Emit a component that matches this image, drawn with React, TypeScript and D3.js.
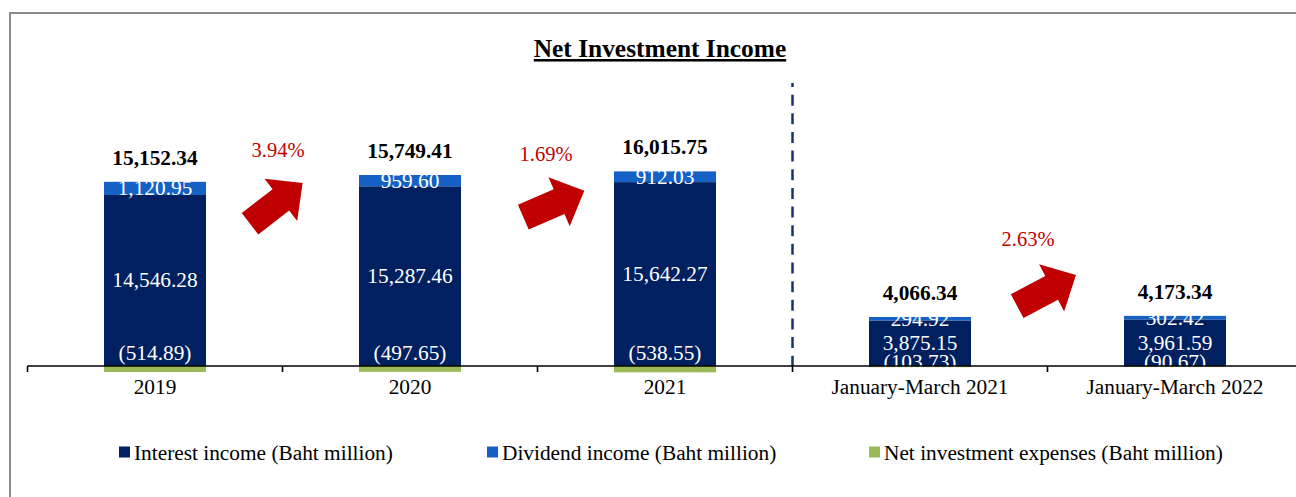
import React from 'react';
import * as d3 from 'd3';

const categories = ['2019', '2020', '2021', 'January-March 2021', 'January-March 2022'];
const interestIncome = [14546.28, 15287.46, 15642.27, 3875.15, 3961.59];
const dividendIncome = [1120.95, 959.6, 912.03, 294.92, 302.42];
const netInvestmentExpenses = [-514.89, -497.65, -538.55, -103.73, -90.67];
const totals = [15152.34, 15749.41, 16015.75, 4066.34, 4173.34];
const growthLabels = ['3.94%', '1.69%', '2.63%'];
const growthFrom = [0, 1, 3];
const seriesNames = [
  'Interest income (Baht million)',
  'Dividend income (Baht million)',
  'Net investment expenses (Baht million)',
];
const title = 'Net Investment Income';

// styling / layout
const W = 1296;
const H = 497;
const colors = ['#002060', '#1561C6', '#9BBB59'];
const RED = '#C00000';
const FONT = '"Liberation Serif", "Times New Roman", serif';
const FS = 21.33;
const y0 = 366;
const k = 0.011756;
const arrowLayout = [
  { dx: -32.5, y: 223.7, angle: -37.7 },
  { dx: -14.2, y: 217.2, angle: -23.5 },
  { dx: -30.3, y: 306.2, angle: -28 },
];
const pctLayout = [
  { dx: -4.5, y: 157.3 },
  { dx: 8.5, y: 161 },
  { dx: -19.5, y: 245.5 },
];
const negLabelDy = [-6, -6, -6, 3, 3];
const legendX = [119, 487, 869];

const fmt = d3.format(',.2f');
const fmtSigned = (v: number) => (v < 0 ? `(${fmt(-v)})` : fmt(v));

export default function App() {
  const x = d3
    .scaleBand<string>()
    .domain(categories)
    .range([27.5, 27.5 + 255 * categories.length])
    .paddingInner(0.6)
    .paddingOuter(0.3);
  const y = d3
    .scaleLinear()
    .domain([-2000, 20000])
    .range([y0 + 2000 * k, y0 - 20000 * k]);
  const step = x.step();
  const bw = x.bandwidth();
  const boundary = (i: number) => (x(categories[i]) as number) + bw / 2 + step / 2;
  const ticks = [27.5, ...categories.map((_, i) => boundary(i))];
  const dividerX = boundary(2);

  const arrowPts = (() => {
    const sh = 13.5, sl = 39, hh = 26.7, hl = 27.5;
    return [
      [0, -sh], [sl, -sh], [sl, -hh], [sl + hl, 0], [sl, hh], [sl, sh], [0, sh],
    ].map((p) => p.join(',')).join(' ');
  })();

  return (
    <svg
      width={W}
      height={H}
      style={{ position: 'absolute', left: 0, top: 0, background: '#fff' }}
      fontFamily={FONT}
    >
      <rect x={0} y={0} width={W} height={H} fill="#fff" />
      <rect x={10} y={13} width={1400} height={700} fill="none" stroke="#8c8c8c" strokeWidth={2} />

      <text
        x={660}
        y={57}
        textAnchor="middle"
        fontSize={25.4}
        fontWeight="bold"
        textDecoration="underline"
        fill="#000"
      >
        {title}
      </text>

      {/* bars */}
      {categories.map((c, i) => {
        const bx = x(c) as number;
        const iTop = y(interestIncome[i]);
        const dTop = y(interestIncome[i] + dividendIncome[i]);
        const nBot = y(netInvestmentExpenses[i]);
        return (
          <g key={c}>
            <rect x={bx} y={iTop} width={bw} height={y(0) - iTop} fill={colors[0]} />
            <rect x={bx} y={dTop} width={bw} height={iTop - dTop} fill={colors[1]} />
            <rect x={bx} y={y(0)} width={bw} height={nBot - y(0)} fill={colors[2]} />
          </g>
        );
      })}

      {/* inner labels */}
      {categories.map((c, i) => {
        const cx = (x(c) as number) + bw / 2;
        const iTop = y(interestIncome[i]);
        const dTop = y(interestIncome[i] + dividendIncome[i]);
        return (
          <g key={'l' + c} fill="#fff" fontSize={FS} textAnchor="middle">
            <text x={cx} y={(iTop + dTop) / 2 + 7}>{fmtSigned(dividendIncome[i])}</text>
            <text x={cx} y={(y(0) + iTop) / 2 + 7}>{fmtSigned(interestIncome[i])}</text>
            <text x={cx} y={y(0) + negLabelDy[i]}>{fmtSigned(netInvestmentExpenses[i])}</text>
          </g>
        );
      })}

      {/* totals */}
      {categories.map((c, i) => {
        const cx = (x(c) as number) + bw / 2;
        const top = y(interestIncome[i] + dividendIncome[i]);
        return (
          <text key={'t' + c} x={cx} y={top - 17} textAnchor="middle" fontSize={FS} fontWeight="bold" fill="#000">
            {fmt(totals[i])}
          </text>
        );
      })}

      {/* divider */}
      <line
        x1={dividerX}
        x2={dividerX}
        y1={83}
        y2={y(0)}
        stroke="#17336F"
        strokeWidth={2.5}
        strokeDasharray="11 7.65"
        strokeDashoffset={7}
      />

      {/* axis */}
      <line x1={27.5} x2={W + 20} y1={y(0)} y2={y(0)} stroke="#000" strokeWidth={1.6} />
      {ticks.map((t, i) => (
        <line key={'tk' + i} x1={t} x2={t} y1={y(0)} y2={y(0) + 6} stroke="#000" strokeWidth={1.6} />
      ))}
      {categories.map((c) => (
        <text key={'c' + c} x={(x(c) as number) + bw / 2} y={394} textAnchor="middle" fontSize={FS} fill="#000">
          {c}
        </text>
      ))}

      {/* growth arrows */}
      {growthLabels.map((g, j) => {
        const bx = boundary(growthFrom[j]);
        const a = arrowLayout[j];
        const p = pctLayout[j];
        return (
          <g key={'g' + j}>
            <polygon
              points={arrowPts}
              fill={RED}
              transform={`translate(${bx + a.dx},${a.y}) rotate(${a.angle})`}
            />
            <text x={bx + p.dx} y={p.y} textAnchor="middle" fontSize={20.5} fill={RED}>
              {g}
            </text>
          </g>
        );
      })}

      {/* legend */}
      {seriesNames.map((s, i) => (
        <g key={'lg' + i}>
          <rect x={legendX[i]} y={446.5} width={11} height={11} fill={colors[i]} />
          <text x={legendX[i] + 15} y={459.5} fontSize={FS} fill="#000">
            {s}
          </text>
        </g>
      ))}
    </svg>
  );
}
